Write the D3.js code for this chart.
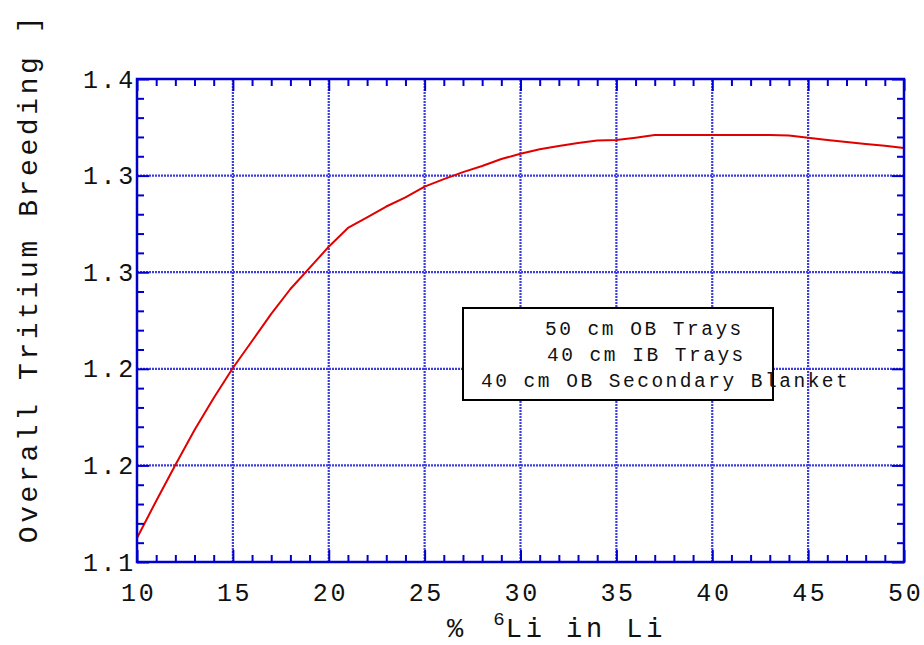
<!DOCTYPE html>
<html>
<head>
<meta charset="utf-8">
<script src="https://cdn.jsdelivr.net/npm/d3@7"></script>
<style>
  html, body { margin: 0; padding: 0; background: #ffffff; }
  svg { display: block; }
  text { font-family: "Liberation Mono", "Courier New", monospace; fill: #111; }
</style>
</head>
<body>
<script>
// % Li-6 enrichment and overall tritium breeding ratio
const pctLi6 = [10, 11, 12, 13, 14, 15, 16, 17, 18, 19, 20,
                21, 22, 23, 24, 25, 26, 27, 28, 29, 30,
                31, 32, 33, 34, 35, 36, 37, 38, 39, 40,
                41, 42, 43, 44, 45, 46, 47, 48, 49, 50];
const tbr = [1.1124, 1.1316, 1.1502, 1.1683, 1.1849, 1.2004, 1.2144, 1.2284, 1.2413, 1.2522, 1.2632,
             1.2729, 1.2784, 1.2840, 1.2887, 1.2943, 1.2982, 1.3018, 1.3050, 1.3086, 1.3113,
             1.3136, 1.3153, 1.3169, 1.3182, 1.3184, 1.3196, 1.3210, 1.3210, 1.3210, 1.3210,
             1.3210, 1.3210, 1.3210, 1.3208, 1.3196, 1.3184, 1.3174, 1.3164, 1.3155, 1.3143];

const xTicks = [10, 15, 20, 25, 30, 35, 40, 45, 50];
const xTickLabels = ["10", "15", "20", "25", "30", "35", "40", "45", "50"];
const xMinorTicks = [11, 12, 13, 14, 16, 17, 18, 19, 21, 22, 23, 24, 26, 27, 28, 29,
                     31, 32, 33, 34, 36, 37, 38, 39, 41, 42, 43, 44, 46, 47, 48, 49];
const yTicks = [1.10, 1.15, 1.20, 1.25, 1.30, 1.35];
const yTickLabels = ["1.1", "1.2", "1.2", "1.3", "1.3", "1.4"];
const yMinorTicks = [1.11, 1.12, 1.13, 1.14, 1.16, 1.17, 1.18, 1.19, 1.21, 1.22, 1.23, 1.24,
                     1.26, 1.27, 1.28, 1.29, 1.31, 1.32, 1.33, 1.34];
const legendLines = ["50 cm OB Trays", "40 cm IB Trays", "40 cm OB Secondary Blanket"];

const W = 924, H = 645;
const plot = { left: 137, right: 904, top: 79, bottom: 562 };
const axisBlue = "#0000cc";
const gridBlue = "#3c3ce0";

const svg = d3.select("body").append("svg")
  .attr("width", W).attr("height", H);

const x = d3.scaleLinear().domain([10, 50]).range([plot.left, plot.right]);
const y = d3.scaleLinear().domain([1.10, 1.35]).range([plot.bottom, plot.top]);

// dotted grid at interior major ticks
const grid = svg.append("g");
grid.selectAll("line.gx")
  .data(xTicks.slice(1, -1))
  .join("line")
  .attr("x1", d => x(d)).attr("x2", d => x(d))
  .attr("y1", y(1.10)).attr("y2", y(1.35))
  .attr("stroke", gridBlue).attr("stroke-width", 2.2).attr("stroke-dasharray", "2,1");
grid.selectAll("line.gy")
  .data(yTicks.slice(1))
  .join("line")
  .attr("x1", x(10)).attr("x2", x(50))
  .attr("y1", d => y(d)).attr("y2", d => y(d))
  .attr("stroke", gridBlue).attr("stroke-width", 2.2).attr("stroke-dasharray", "2,1");

// legend box (white fill hides the grid behind it)
const legend = svg.append("g");
legend.append("rect")
  .attr("x", 463).attr("y", 308).attr("width", 310).attr("height", 92)
  .attr("fill", "#ffffff").attr("stroke", "#000").attr("stroke-width", 2);

// breeding curve
const line = d3.line().x((d, i) => x(pctLi6[i])).y(d => y(d));
svg.append("path")
  .datum(tbr)
  .attr("d", line)
  .attr("fill", "none")
  .attr("stroke", "#e00000")
  .attr("stroke-width", 2)
  .attr("stroke-linejoin", "round");

// legend text
const legendX = [545, 547, 481];
legend.selectAll("text")
  .data(legendLines)
  .join("text")
  .attr("x", (d, i) => legendX[i])
  .attr("y", (d, i) => 335 + i * 25.8)
  .attr("font-size", 19.5)
  .attr("letter-spacing", 2.5)
  .text(d => d);

// axes: major and minor ticks pointing inward on all four sides
function styleAxis(g) {
  g.select(".domain").remove();
  g.selectAll(".tick line").attr("stroke", axisBlue).attr("stroke-width", 2);
}
const fmtX = (d) => xTickLabels[xTicks.indexOf(d)];
const fmtY = (d) => yTickLabels[yTicks.indexOf(d)];

svg.append("g").attr("transform", `translate(0,${plot.bottom})`)
  .call(d3.axisBottom(x).tickValues(xTicks).tickSize(-12).tickPadding(21).tickFormat(fmtX))
  .call(styleAxis)
  .call(g => g.selectAll("text").attr("font-size", 25).attr("letter-spacing", 2.7)
    .attr("font-family", "Liberation Mono").attr("fill", "#111").attr("dx", "0.05em"));
svg.append("g").attr("transform", `translate(0,${plot.bottom})`)
  .call(d3.axisBottom(x).tickValues(xMinorTicks).tickSize(-7).tickFormat(""))
  .call(styleAxis);
svg.append("g").attr("transform", `translate(0,${plot.top})`)
  .call(d3.axisTop(x).tickValues(xTicks).tickSize(-12).tickFormat(""))
  .call(styleAxis);
svg.append("g").attr("transform", `translate(0,${plot.top})`)
  .call(d3.axisTop(x).tickValues(xMinorTicks).tickSize(-7).tickFormat(""))
  .call(styleAxis);

svg.append("g").attr("transform", `translate(${plot.left},0)`)
  .call(d3.axisLeft(y).tickValues(yTicks).tickSize(-12).tickPadding(1).tickFormat(fmtY))
  .call(styleAxis)
  .call(g => g.selectAll("text").attr("font-size", 25).attr("letter-spacing", 2.7)
    .attr("font-family", "Liberation Mono").attr("fill", "#111"));
svg.append("g").attr("transform", `translate(${plot.left},0)`)
  .call(d3.axisLeft(y).tickValues(yMinorTicks).tickSize(-7).tickFormat(""))
  .call(styleAxis);
svg.append("g").attr("transform", `translate(${plot.right},0)`)
  .call(d3.axisRight(y).tickValues(yTicks).tickSize(-12).tickFormat(""))
  .call(styleAxis);
svg.append("g").attr("transform", `translate(${plot.right},0)`)
  .call(d3.axisRight(y).tickValues(yMinorTicks).tickSize(-7).tickFormat(""))
  .call(styleAxis);

// plot frame
svg.append("rect")
  .attr("x", plot.left).attr("y", plot.top)
  .attr("width", plot.right - plot.left).attr("height", plot.bottom - plot.top)
  .attr("fill", "none").attr("stroke", axisBlue).attr("stroke-width", 2.5);

// axis titles
const xTitle = svg.append("text")
  .attr("x", 447).attr("y", 637)
  .attr("font-size", 27).attr("letter-spacing", 3.9);
xTitle.append("tspan").text("% ");
xTitle.append("tspan").attr("font-size", 19).attr("dx", 6).attr("dy", -12).attr("letter-spacing", 1).text("6");
xTitle.append("tspan").attr("dy", 12).text("Li in Li");

svg.append("text")
  .attr("transform", "rotate(-90)")
  .attr("x", -278).attr("y", 37)
  .attr("text-anchor", "middle")
  .attr("font-size", 28).attr("letter-spacing", 3.6)
  .text("Overall Tritium Breeding ]");
</script>
</body>
</html>
